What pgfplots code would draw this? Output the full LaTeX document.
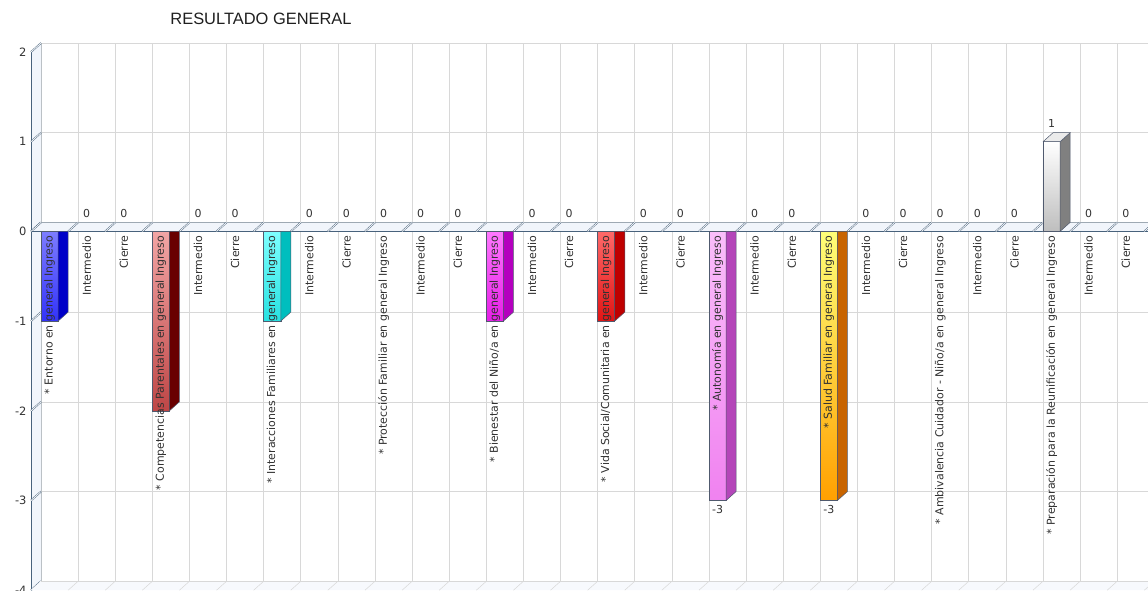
\documentclass[border=0pt]{standalone}
\usepackage{pgfplots}
\pgfplotsset{compat=1.18}
\usepackage{fontspec}
\setmainfont{DejaVu Sans}
\newfontfamily\titlefont{Liberation Sans}

\definecolor{edge}{RGB}{72,98,124}
\definecolor{wall}{RGB}{241,245,251}
\definecolor{gridc}{RGB}{216,216,216}
\definecolor{txt}{RGB}{50,50,50}
\definecolor{barline}{RGB}{80,90,110}

\definecolor{c1t}{RGB}{125,125,255}\definecolor{c1b}{RGB}{50,50,250}\definecolor{c1s}{RGB}{0,0,200}
\definecolor{c2t}{RGB}{242,165,165}\definecolor{c2b}{RGB}{190,70,70}\definecolor{c2s}{RGB}{105,0,0}
\definecolor{c3t}{RGB}{125,255,255}\definecolor{c3b}{RGB}{40,225,225}\definecolor{c3s}{RGB}{0,190,190}
\definecolor{c4t}{RGB}{255,120,255}\definecolor{c4b}{RGB}{230,30,230}\definecolor{c4s}{RGB}{180,0,190}
\definecolor{c5t}{RGB}{255,105,105}\definecolor{c5b}{RGB}{225,20,20}\definecolor{c5s}{RGB}{190,0,0}
\definecolor{c6t}{RGB}{250,190,250}\definecolor{c6b}{RGB}{240,130,240}\definecolor{c6s}{RGB}{180,70,185}
\definecolor{c7t}{RGB}{255,255,120}\definecolor{c7b}{RGB}{255,160,0}\definecolor{c7s}{RGB}{200,100,0}
\definecolor{c8t}{RGB}{255,255,255}\definecolor{c8b}{RGB}{190,190,190}\definecolor{c8s}{RGB}{128,128,128}

% front face of one bar (centre, value, top colour, bottom colour)
\newcommand{\frontbar}[4]{%
  \addplot[ybar, bar width=0.46, bar shift=0pt, draw=barline, line width=0.5bp,
    top color=#3, bottom color=#4, forget plot] coordinates {(#1,#2)};}

\begin{document}
\begin{tikzpicture}
% back plane: grid only
\begin{axis}[
  at={(10bp,9bp)}, anchor=south west,
  width=1117bp, height=538.2bp, scale only axis,
  xmin=0, xmax=30.1, ymin=-4, ymax=2,
  xtick={0,...,30}, ytick={-4,...,2},
  xticklabels={}, yticklabels={},
  axis line style={draw=none}, tick style={draw=none},
  grid=major, grid style={gridc, line width=0.6bp},
]
\end{axis}
% front: walls, bars and texts
\begin{axis}[
  at={(0,0)}, anchor=south west,
  width=1117bp, height=538.2bp, scale only axis,
  xmin=0, xmax=30.1, ymin=-4, ymax=2,
  clip=false, axis on top,
  axis x line*=middle, axis y line*=left,
  hide obscured x ticks=false, hide obscured y ticks=false,
  axis line style={draw=none}, tick style={draw=none},
  major tick length=0pt,
  ytick={-4,...,2},
  /pgf/number format/assume math mode=true,
  yticklabel style={font=\fontsize{11.5}{13}\selectfont, text=txt, xshift=-1bp},
  xtick={0.5,1.5,...,29.5},
  xticklabels={* Entorno en general Ingreso, Intermedio, Cierre,
    * Competencias Parentales en general Ingreso, Intermedio, Cierre,
    * Interacciones Familiares en general Ingreso, Intermedio, Cierre,
    * Protección Familiar en general Ingreso, Intermedio, Cierre,
    * Bienestar del Niño/a en general Ingreso, Intermedio, Cierre,
    * Vida Social/Comunitaria en general Ingreso, Intermedio, Cierre,
    * Autonomía en general Ingreso, Intermedio, Cierre,
    * Salud Familiar en general Ingreso, Intermedio, Cierre,
    * Ambivalencia Cuidador - Niño/a en general Ingreso, Intermedio, Cierre,
    * Preparación para la Reunificación en general Ingreso, Intermedio, Cierre},
  xticklabel style={rotate=90, anchor=east, font=\fontsize{11}{13}\selectfont, text=txt, xshift=-1bp},
]
% left wall
\fill[wall] (axis cs:0,-4) -- (axis cs:0,2) -- (axis cs:0.27,2.1) -- (axis cs:0.27,-3.9) -- cycle;
\draw[edge, line width=0.8bp] (axis cs:0,-4) -- (axis cs:0,2);
\draw[gridc!80!edge, line width=0.5bp] (axis cs:0.27,-3.9) -- (axis cs:0.27,2.1);
\pgfplotsinvokeforeach{-4,...,2}{
  \draw[edge, line width=0.45bp, double=white, double distance=0.7bp] (axis cs:0,#1) -- (axis cs:0.27,#1+0.1);
}
% floor
\fill[wall!60!white] (axis cs:0,-4) -- (axis cs:30.1,-4) -- (axis cs:30.37,-3.9) -- (axis cs:0.27,-3.9) -- cycle;
\draw[gridc, line width=0.6bp] (axis cs:0.27,-3.9) -- (axis cs:30.37,-3.9);
\pgfplotsinvokeforeach{1,...,30}{
  \draw[gridc, line width=0.5bp] (axis cs:#1,-4) -- (axis cs:#1+0.27,-3.9);
}
% zero plane
\fill[wall] (axis cs:0,0) -- (axis cs:30.1,0) -- (axis cs:30.37,0.1) -- (axis cs:0.27,0.1) -- cycle;
\draw[gridc!60!edge, line width=0.5bp] (axis cs:0.27,0.1) -- (axis cs:30.37,0.1);
\draw[edge, line width=0.8bp] (axis cs:0,0) -- (axis cs:30.1,0);
\pgfplotsinvokeforeach{0,...,30}{
  \draw[edge, line width=0.45bp, double=white, double distance=0.7bp] (axis cs:#1,0) -- (axis cs:#1+0.27,0.1);
}

% bars: Ingreso values
\frontbar{0.5}{-1}{c1t}{c1b}
\addplot[fill=c1s, draw=barline, line width=0.5bp, forget plot] coordinates {(0.73,0)(1,0)(1,-0.9)(0.73,-1)(0.73,0)};
\frontbar{3.5}{-2}{c2t}{c2b}
\addplot[fill=c2s, draw=barline, line width=0.5bp, forget plot] coordinates {(3.73,0)(4,0)(4,-1.9)(3.73,-2)(3.73,0)};
\frontbar{6.5}{-1}{c3t}{c3b}
\addplot[fill=c3s, draw=barline, line width=0.5bp, forget plot] coordinates {(6.73,0)(7,0)(7,-0.9)(6.73,-1)(6.73,0)};
\frontbar{12.5}{-1}{c4t}{c4b}
\addplot[fill=c4s, draw=barline, line width=0.5bp, forget plot] coordinates {(12.73,0)(13,0)(13,-0.9)(12.73,-1)(12.73,0)};
\frontbar{15.5}{-1}{c5t}{c5b}
\addplot[fill=c5s, draw=barline, line width=0.5bp, forget plot] coordinates {(15.73,0)(16,0)(16,-0.9)(15.73,-1)(15.73,0)};
\frontbar{18.5}{-3}{c6t}{c6b}
\addplot[fill=c6s, draw=barline, line width=0.5bp, forget plot] coordinates {(18.73,0)(19,0)(19,-2.9)(18.73,-3)(18.73,0)};
\frontbar{21.5}{-3}{c7t}{c7b}
\addplot[fill=c7s, draw=barline, line width=0.5bp, forget plot] coordinates {(21.73,0)(22,0)(22,-2.9)(21.73,-3)(21.73,0)};
\frontbar{27.5}{1}{c8t}{c8b}
\addplot[fill=c8s, draw=barline, line width=0.5bp, forget plot] coordinates {(27.73,0)(28,0.1)(28,1.1)(27.73,1)(27.73,0)};
\addplot[fill=white!92!black, draw=barline, line width=0.5bp, forget plot] coordinates {(27.27,1)(27.73,1)(28,1.1)(27.54,1.1)(27.27,1)};

% value labels
\addplot[draw=none, forget plot, nodes near coords,
  every node near coord/.append style={font=\fontsize{11}{12}\selectfont, text=txt, yshift=10bp}]
  coordinates {(1.5,0)(2.5,0)(4.5,0)(5.5,0)(7.5,0)(8.5,0)(9.5,0)(10.5,0)(11.5,0)
    (13.5,0)(14.5,0)(16.5,0)(17.5,0)(19.5,0)(20.5,0)(22.5,0)(23.5,0)(24.5,0)
    (25.5,0)(26.5,0)(28.5,0)(29.5,0)};
\addplot[draw=none, forget plot, nodes near coords,
  every node near coord/.append style={font=\fontsize{11}{12}\selectfont, text=txt, yshift=-1bp}]
  coordinates {(18.5,-3)(21.5,-3)};
\addplot[draw=none, forget plot, nodes near coords,
  every node near coord/.append style={font=\fontsize{11}{12}\selectfont, text=txt, yshift=10.5bp}]
  coordinates {(27.5,1)};

\node[font=\titlefont\fontsize{16.5}{19}\selectfont, text=black!88] at ([xshift=230bp, yshift=33bp]rel axis cs:0,1) {RESULTADO GENERAL};
\coordinate (bl) at ([xshift=-31bp]rel axis cs:0,0);
\coordinate (tr) at ([yshift=52bp]rel axis cs:1,1);
\end{axis}
\pgfresetboundingbox
\path[use as bounding box] (bl) rectangle (tr);
\end{tikzpicture}
\end{document}
